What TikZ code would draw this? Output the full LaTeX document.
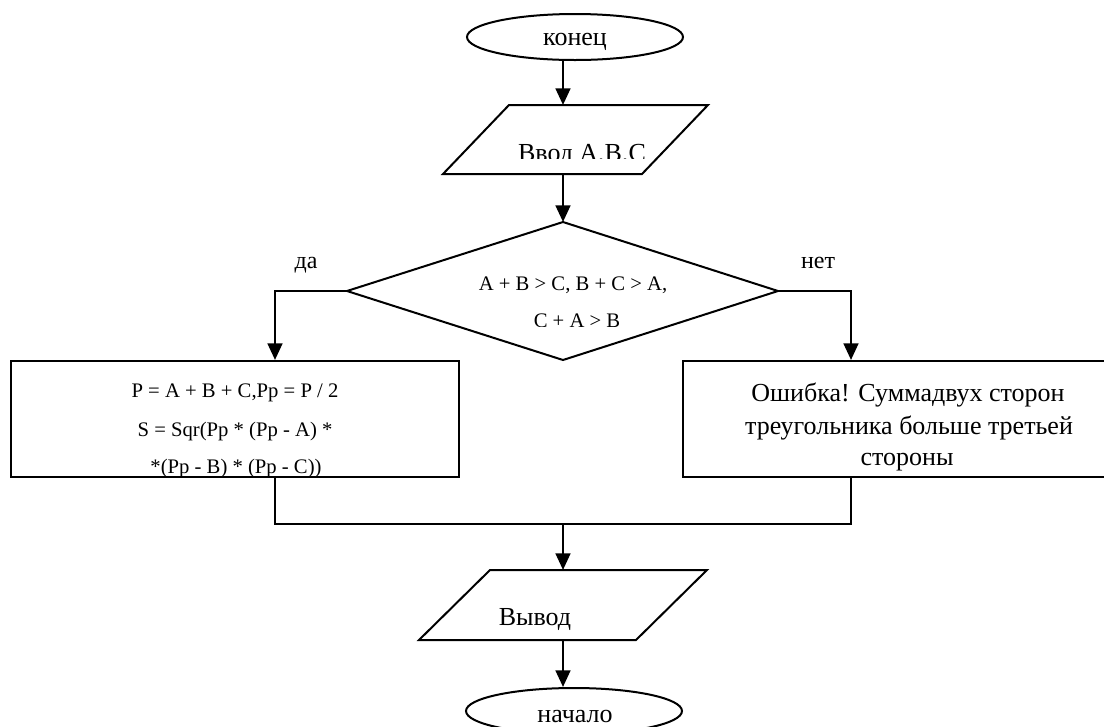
\documentclass[tikz,border=0pt]{standalone}
\usepackage{fontspec}
\setmainfont{Liberation Serif}
\usetikzlibrary{arrows.meta,calc,shapes.geometric}
\begin{document}
\begin{tikzpicture}[x=0.75pt,y=-0.75pt,
  outline/.style={line width=1.5pt, line join=miter},
  flow/.style={line width=2pt, line join=miter},
  arr/.style={flow,-{Triangle[length=12.5pt,width=11pt]}},
  txt/.style={inner sep=0pt, anchor=base},
  big/.style={font=\fontsize{19.5}{24}\selectfont},
  small/.style={font=\fontsize{15.5}{19}\selectfont},
  lbl/.style={font=\fontsize{18}{22}\selectfont},
  terminal/.style={ellipse, draw, outline, inner sep=0pt,
    minimum width=162pt, minimum height=34.5pt},
  block/.style={draw, outline, inner sep=0pt, minimum height=87pt},
]
\useasboundingbox (0,0) rectangle (1104,726);
\begin{scope}
\clip (0,0) rectangle (1104,726);

% guide columns for the connectors
\coordinate (spine) at (563,0);
\coordinate (lx) at (275,0);
\coordinate (rx) at (851,0);
\coordinate (mj) at (563,524);

% start terminal
\node[terminal] (start) at (575,37) {};
\node[txt,big] (starttxt) at (575,45) {конец};

% input parallelogram
\draw[outline] (509,105) coordinate (in-tl) -- (708,105) coordinate (in-tr)
  -- (642,174) coordinate (in-br) -- (443,174) coordinate (in-bl) -- cycle;
\begin{scope}
  \clip (400,100) rectangle (720,158);
  \node[txt,big] (intxt) at (582,161) {Ввод A,B,C};
\end{scope}

% decision
\draw[outline] (563,222) coordinate (dtop) -- (778,291) coordinate (dright)
  -- (563,360) coordinate (dbottom) -- (347,291) coordinate (dleft) -- cycle;
\node[txt,small] (cond1) at (573,290.5) {A + B > C, B + C > A,};
\begin{scope}
  \clip (400,300) rectangle (720,326);
  \node[txt,small] (cond2) at (577,327) {C + A > B};
\end{scope}

% branch labels
\node[txt,lbl] (yes) at (306,268) {да};
\node[txt,lbl] (no) at (818,268) {нет};

% process blocks
\node[block, minimum width=336pt] (calc) at (235,419) {};
\node[txt,small] (calc1) at (235,397) {P = A + B + C,Pp = P / 2};
\node[txt,small] (calc2) at (235,436) {S = Sqr(Pp * (Pp - A) *};
\node[txt,small] (calc3) at (236,473) {*(Pp - B) * (Pp - C))};

\node[block, minimum width=337.5pt] (err) at (908,419) {};
\node[txt,big] (err1) at (908,401) {Ошибка! Суммадвух сторон};
\node[txt,big] (err2) at (909,434) {треугольника больше третьей};
\node[txt,big] (err3) at (907,465) {стороны};

% output parallelogram
\draw[outline] (490,570) coordinate (out-tl) -- (707,570) coordinate (out-tr)
  -- (636,640) coordinate (out-br) -- (419,640) coordinate (out-bl) -- cycle;
\node[txt,big] (outtxt) at (535,625) {Вывод};

% end terminal
\node[terminal] (stop) at (574,711) {};
\node[txt,big] (stoptxt) at (575,722) {начало};

% connectors
\draw[arr] (start.south -| spine) -- (in-tl -| spine);
\draw[arr] (in-bl -| spine) -- (dtop);
\draw[arr] (dleft) -| (calc.north -| lx);
\draw[arr] (dright) -| (err.north -| rx);
\draw[flow] (calc.south -| lx) -- (lx |- mj) -- (rx |- mj) -- (err.south -| rx);
\draw[arr] (mj) -- (out-tl -| spine);
\draw[arr] (out-bl -| spine) -- (stop.north -| spine);
\end{scope}
\end{tikzpicture}
\end{document}
